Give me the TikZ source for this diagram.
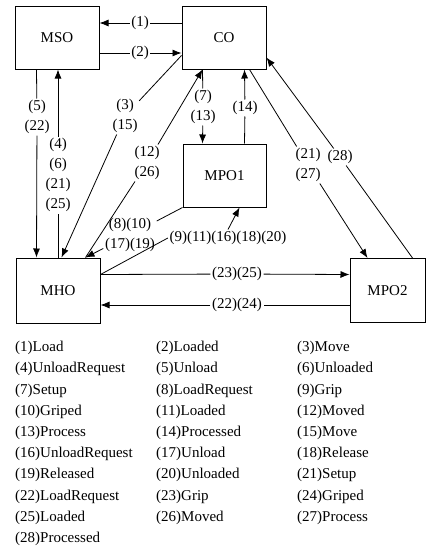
\documentclass[tikz,border=0pt]{standalone}
\usepackage{fontspec}
\setmainfont{Liberation Serif}
\usetikzlibrary{arrows.meta}

\tikzset{
  unit/.style={draw, line width=1pt, minimum width=84pt, minimum height=62pt,
    inner sep=0pt, font=\fontsize{15}{18}\selectfont},
  lbl/.style={inner sep=1.5pt, align=center, font=\fontsize{15}{20}\selectfont},
  msg/.style={line width=0.8pt},
  msgarr/.style={msg, -{Latex[length=9pt,width=7pt]}},
  legend/.style={anchor=north west, align=left, inner sep=0pt,
    font=\fontsize{15}{21.2}\selectfont}
}

\begin{document}
\begin{tikzpicture}[x=1pt,y=-1pt]
\useasboundingbox (0,0) rectangle (426,551);

% Units
\node[unit] (MSO) at (57,38) {MSO};
\node[unit] (CO) at (224,38) {CO};
\node[unit, minimum width=83pt, minimum height=63pt] (MPO1) at (224.5,175.5) {MPO1};
\node[unit, minimum height=65pt] (MHO) at (58,290.5) {MHO};
\node[unit, minimum width=75pt, minimum height=64pt] (MPO2) at (387.5,290.5) {MPO2};

% Message labels
\node[lbl] (l1) at (140,23) {(1)};
\node[lbl] (l2) at (140,53) {(2)};
\node[lbl] (l5) at (37,117) {(5)\\(22)};
\node[lbl] (l4) at (58,175) {(4)\\(6)\\(21)\\(25)};
\node[lbl] (l3) at (125,116) {(3)\\(15)};
\node[lbl] (l12) at (147,163) {(12)\\(26)};
\node[lbl] (l7) at (203,107) {(7)\\(13)};
\node[lbl] (l14) at (245,108) {(14)};
\node[lbl] (l21) at (308,165) {(21)\\(27)};
\node[lbl] (l28) at (340,157) {(28)};
\node[lbl] (l8) at (130,235) {(8)(10)\\(17)(19)};
\node[lbl] (l9) at (228,238) {(9)(11)(16)(18)(20)};
\node[lbl] (l23) at (237,274) {(23)(25)};
\node[lbl] (l22) at (237,305) {(22)(24)};

% MSO <-> CO
\draw[msg] ([yshift=15pt]CO.west) -- (l1);
\draw[msgarr] (l1) -- ([yshift=15pt]MSO.east);
\draw[msg] ([yshift=-15pt]MSO.east) -- (l2);
\draw[msgarr] (l2) -- ([yshift=-15pt]CO.west);

% MSO <-> MHO
\draw[msg] ([xshift=22pt]MSO.south west) -- (l5);
\draw[msgarr] (l5) -- ([xshift=21pt]MHO.north west);
\draw[msg] (MHO.north) -- (l4);
\draw[msgarr] (l4) -- ([xshift=1pt]MSO.south);

% CO <-> MHO
\draw[msg] ([yshift=14pt]CO.south west) -- (l3);
\draw[msgarr] (l3) -- ([xshift=46pt]MHO.north west);
\draw[msg] ([xshift=70pt]MHO.north west) -- (l12);
\draw[msgarr] (l12) -- ([xshift=21pt]CO.south west);

% CO <-> MPO1
\draw[msg] ([xshift=21pt]CO.south west) -- (l7);
\draw[msgarr] (l7) -- ([xshift=20pt]MPO1.north west);
\draw[msg] ([xshift=62pt]MPO1.north west) -- (l14);
\draw[msgarr] (l14) -- ([xshift=63pt]CO.south west);

% CO <-> MPO2
\draw[msg] ([xshift=68pt]CO.south west) -- (l21);
\draw[msgarr] (l21) -- ([xshift=18pt]MPO2.north west);
\draw[msg] ([xshift=63pt]MPO2.north west) -- (l28);
\draw[msgarr] (l28) -- ([yshift=12pt]CO.south east);

% MHO <-> MPO1
\draw[msg] (MPO1.south west) -- (l8);
\draw[msgarr] (l8) -- ([xshift=70pt]MHO.north west);
\draw[msg] ([yshift=16pt]MHO.east) -- (l9.west);
\draw[msgarr] (l9.north) -- ([xshift=57pt]MPO1.south west);

% MHO <-> MPO2
\draw[msg] ([yshift=16pt]MHO.east) -- (l23);
\draw[msgarr] (l23) -- ([yshift=16pt]MPO2.west);
\draw[msg] ([yshift=-14.5pt]MPO2.west) -- (l22);
\draw[msgarr] (l22) -- ([yshift=-14.5pt]MHO.east);

% Legend
\node[legend] (legA) at (15,341)
{(1)Load\\(4)UnloadRequest\\(7)Setup\\(10)Griped\\(13)Process\\
(16)UnloadRequest\\(19)Released\\(22)LoadRequest\\(25)Loaded\\(28)Processed};

\node[legend] (legB) at (156,341)
{(2)Loaded\\(5)Unload\\(8)LoadRequest\\(11)Loaded\\(14)Processed\\
(17)Unload\\(20)Unloaded\\(23)Grip\\(26)Moved};

\node[legend] (legC) at (297,341)
{(3)Move\\(6)Unloaded\\(9)Grip\\(12)Moved\\(15)Move\\
(18)Release\\(21)Setup\\(24)Griped\\(27)Process};

\end{tikzpicture}
\end{document}
